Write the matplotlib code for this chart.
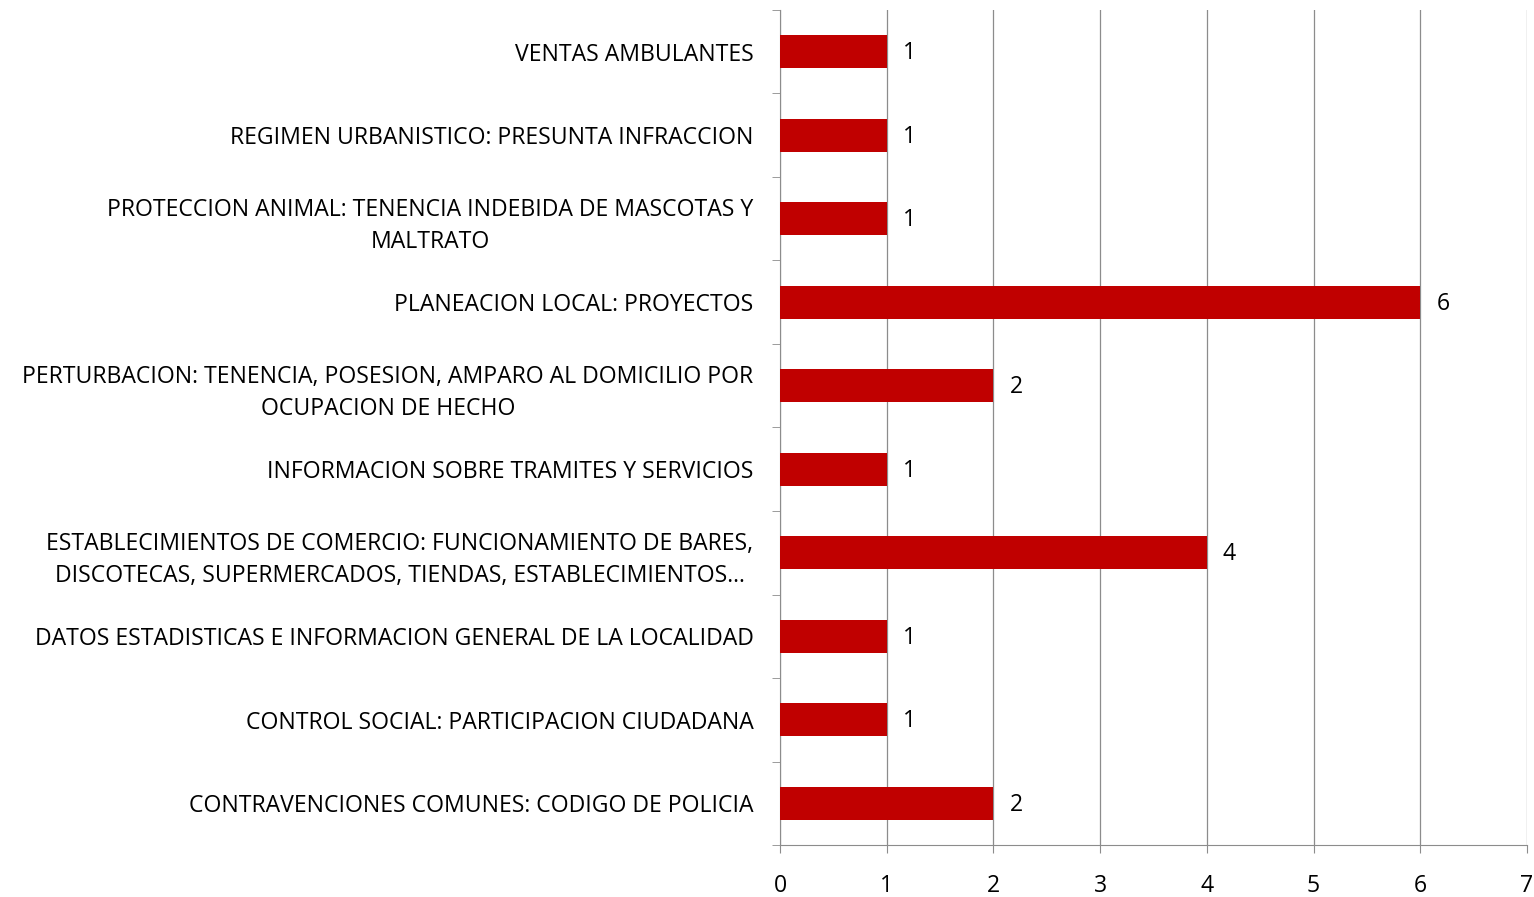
import matplotlib
matplotlib.use("Agg")
import matplotlib.pyplot as plt
import numpy as np

plt.rcParams['font.family'] = ['Open Sans', 'DejaVu Sans']

# categories listed bottom to top
categorias = [
    'CONTRAVENCIONES COMUNES: CODIGO DE POLICIA',
    'CONTROL SOCIAL: PARTICIPACION CIUDADANA',
    'DATOS ESTADISTICAS E INFORMACION GENERAL DE LA LOCALIDAD',
    'ESTABLECIMIENTOS DE COMERCIO: FUNCIONAMIENTO DE BARES,\nDISCOTECAS, SUPERMERCADOS, TIENDAS, ESTABLECIMIENTOS...',
    'INFORMACION SOBRE TRAMITES Y SERVICIOS',
    'PERTURBACION: TENENCIA, POSESION, AMPARO AL DOMICILIO POR\nOCUPACION DE HECHO',
    'PLANEACION LOCAL: PROYECTOS',
    'PROTECCION ANIMAL: TENENCIA INDEBIDA DE MASCOTAS Y\nMALTRATO',
    'REGIMEN URBANISTICO: PRESUNTA INFRACCION',
    'VENTAS AMBULANTES',
]
valores = [2, 1, 1, 4, 1, 2, 6, 1, 1, 1]
xticks = [0, 1, 2, 3, 4, 5, 6, 7]

fs = 16.6

fig = plt.figure(figsize=(15.34, 8.97), dpi=100)
ax = fig.add_axes([780/1534, 52/897, 747/1534, 835/897])

y = np.arange(len(categorias))
ax.barh(y, valores, height=0.4, color='#C00000', zorder=3)
for yi, v in zip(y, valores):
    ax.text(v + 0.15, yi - 0.02, str(v), va='center', ha='left', fontsize=fs)

ax.set_xlim(0, 7)
ax.set_ylim(-0.5, len(categorias) - 0.5)
ax.set_xticks(xticks)
ax.set_xticklabels([str(t) for t in xticks], fontsize=fs)
ax.set_yticks(y)
ax.set_yticklabels(categorias, fontsize=fs, linespacing=1.45, multialignment='center')
ax.set_yticks(np.arange(-0.5, len(categorias), 1), minor=True)

ax.xaxis.grid(True, color='#8c8c8c', linewidth=0.9, zorder=0)
ax.tick_params(axis='y', which='major', length=0, pad=19)
ax.tick_params(axis='y', which='minor', length=6, color='#8c8c8c', direction='out')
ax.tick_params(axis='x', length=6, color='#8c8c8c', direction='out', pad=15)

for s in ['top', 'right']:
    ax.spines[s].set_visible(False)
for s in ['left', 'bottom']:
    ax.spines[s].set_color('#8c8c8c')

fig.savefig('out.png', dpi=100)
